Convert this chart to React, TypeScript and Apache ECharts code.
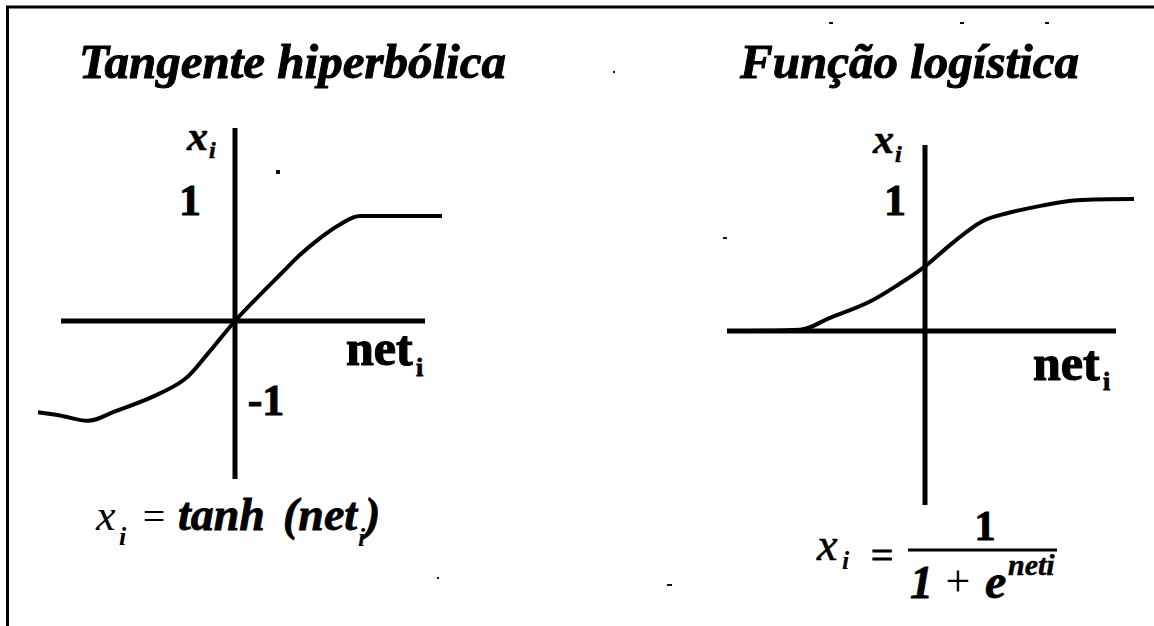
import React, { useEffect, useRef } from "react";
import * as echarts from "echarts";

// Tangente hiperbólica (axis units)
const tanhX = [-3.94, -3.5, -2.94, -2.4, -1.64, -1.02, -0.56, 0, 0.46, 0.9, 1.3, 1.7, 2.1, 2.5, 4.14];
const tanhY = [-0.87, -0.9, -0.95, -0.86, -0.72, -0.56, -0.32, 0, 0.23, 0.44, 0.63, 0.79, 0.92, 1.0, 1.0];
// Função logística
const logX = [-3.96, -2.5, -1.9, -1.12, -0.5, 0, 0.56, 1.14, 1.62, 2.34, 3.04, 4.18];
const logY = [0, 0.01, 0.1, 0.22, 0.36, 0.49, 0.67, 0.83, 0.89, 0.95, 0.99, 1.0];

// extents of the drawn axis lines (axis units)
const leftHAxis = [-3.48, 3.8];
const leftVAxis = [-1.505, 1.838];
const rightHAxis = [-3.96, 3.82];
const rightVAxis = [-1.318, 1.409];

const titles = ["Tangente hiperbólica", "Função logística"];
const tickOne = "1";
const tickMinusOne = "-1";

const SERIF = "'Liberation Serif', 'Times New Roman', serif";

function txt(
  text: string,
  x: number,
  baseline: number,
  size: number,
  weight: string,
  style: string,
  align: string = "left",
  heavy: number = 0
) {
  const s: any = {
    text,
    x,
    y: baseline - 0.34 * size,
    fontSize: size,
    fontFamily: SERIF,
    fontWeight: weight,
    fontStyle: style,
    fill: "#000",
    align,
    verticalAlign: "middle",
  };
  if (heavy > 0) {
    s.stroke = "#000";
    s.lineWidth = heavy;
  }
  return { type: "text", silent: true, style: s };
}

function dot(x: number, y: number, w: number, h: number) {
  return { type: "rect", silent: true, shape: { x, y, width: w, height: h }, style: { fill: "#111" } };
}

const axisCommon = {
  type: "value",
  axisTick: { show: false },
  axisLabel: { show: false },
  splitLine: { show: false },
  axisLine: { show: false },
};

function lineSeries(idx: number, data: number[][], width: number, smooth: number | boolean) {
  return {
    type: "line",
    xAxisIndex: idx,
    yAxisIndex: idx,
    data,
    symbol: "none",
    smooth,
    clip: false,
    silent: true,
    lineStyle: { color: "#000", width, cap: "butt" },
  };
}

export default function App() {
  const ref = useRef<HTMLDivElement>(null);
  useEffect(() => {
    if (!ref.current) return;
    const chart = echarts.init(ref.current, null, { renderer: "svg" });
    const option: any = {
      animation: false,
      backgroundColor: "#fff",
      grid: [
        { left: 38, top: 128, width: 404, height: 351, outerBoundsMode: "none" },
        { left: 727, top: 145, width: 407, height: 360, outerBoundsMode: "none" },
      ],
      xAxis: [
        { ...axisCommon, gridIndex: 0, min: -3.94, max: 4.14 },
        { ...axisCommon, gridIndex: 1, min: -3.96, max: 4.18 },
      ],
      yAxis: [
        { ...axisCommon, gridIndex: 0, min: leftVAxis[0], max: leftVAxis[1] },
        { ...axisCommon, gridIndex: 1, min: rightVAxis[0], max: rightVAxis[1] },
      ],
      series: [
        lineSeries(0, [[leftHAxis[0], 0], [leftHAxis[1], 0]], 5, false),
        lineSeries(0, [[0, leftVAxis[0]], [0, leftVAxis[1]]], 5, false),
        lineSeries(1, [[rightHAxis[0], 0], [rightHAxis[1], 0]], 5, false),
        lineSeries(1, [[0, rightVAxis[0]], [0, rightVAxis[1]]], 5, false),
        lineSeries(0, tanhX.map((x, i) => [x, tanhY[i]]), 4, 0.35),
        lineSeries(1, logX.map((x, i) => [x, logY[i]]), 4, 0.35),
      ],
      graphic: [
        // frame
        { type: "line", silent: true, shape: { x1: 6, y1: 7, x2: 1154, y2: 7 }, style: { stroke: "#000", lineWidth: 3 } },
        { type: "line", silent: true, shape: { x1: 7.5, y1: 6, x2: 7.5, y2: 626 }, style: { stroke: "#000", lineWidth: 3 } },
        // titles
        txt(titles[0], 292.5, 78, 49, "bold", "italic", "center", 1),
        txt(titles[1], 909.5, 78, 49, "bold", "italic", "center", 1),
        // left axis labels
        txt("x", 187, 150, 42, "bold", "italic", "left", 0.6),
        txt("i", 209, 158, 24, "bold", "italic", "left", 0.6),
        txt(tickOne, 190, 215, 44, "bold", "normal", "center", 1),
        txt(tickMinusOne, 266, 415, 44, "bold", "normal", "center", 1),
        txt("net", 346, 365, 50, "bold", "normal", "left", 1.2),
        txt("i", 416, 376, 26, "bold", "normal", "left", 0.8),
        // right axis labels
        txt("x", 873, 153, 42, "bold", "italic", "left", 0.6),
        txt("i", 895, 162, 24, "bold", "italic", "left", 0.6),
        txt(tickOne, 895, 215, 44, "bold", "normal", "center", 1),
        txt("net", 1033, 380, 50, "bold", "normal", "left", 1.2),
        txt("i", 1103, 390, 26, "bold", "normal", "left", 0.8),
        // left formula
        txt("x", 96, 530, 44, "normal", "italic"),
        txt("i", 119, 545, 26, "bold", "italic"),
        txt("=", 154, 530, 40, "normal", "normal", "center"),
        txt("tanh", 178, 530, 46, "bold", "italic", "left", 0.8),
        txt("(net", 283, 530, 46, "bold", "italic", "left", 0.8),
        txt("i", 358, 546, 26, "bold", "italic"),
        txt(")", 365, 530, 46, "bold", "italic", "left", 0.8),
        // right formula
        txt("x", 817, 560, 46, "normal", "italic", "left", 0.6),
        txt("i", 842, 569, 26, "bold", "italic"),
        txt("=", 882, 569, 40, "normal", "normal", "center", 0.8),
        { type: "line", silent: true, shape: { x1: 908, y1: 550, x2: 1057, y2: 550 }, style: { stroke: "#000", lineWidth: 3 } },
        txt("1", 985, 540, 42, "bold", "normal", "center", 1),
        txt("1", 910, 598, 46, "bold", "italic", "left", 0.8),
        txt("+", 958, 596, 44, "normal", "normal", "center"),
        txt("e", 985, 598, 48, "bold", "italic", "left", 0.8),
        txt("neti", 1008, 575, 30, "bold", "italic", "left", 0.5),
        // scan specks
        dot(276, 170, 4, 4),
        dot(829, 22, 4, 2),
        dot(960, 22, 4, 2),
        dot(1045, 22, 4, 2),
        dot(613, 71, 2, 2),
        dot(723, 237, 4, 2),
        dot(437, 577, 2, 2),
        dot(667, 584, 5, 2),
      ],
    };
    chart.setOption(option);
    return () => chart.dispose();
  }, []);
  return (
    <div
      ref={ref}
      style={{ position: "fixed", left: 0, top: 0, width: 1154, height: 626, background: "#fff" }}
    />
  );
}
